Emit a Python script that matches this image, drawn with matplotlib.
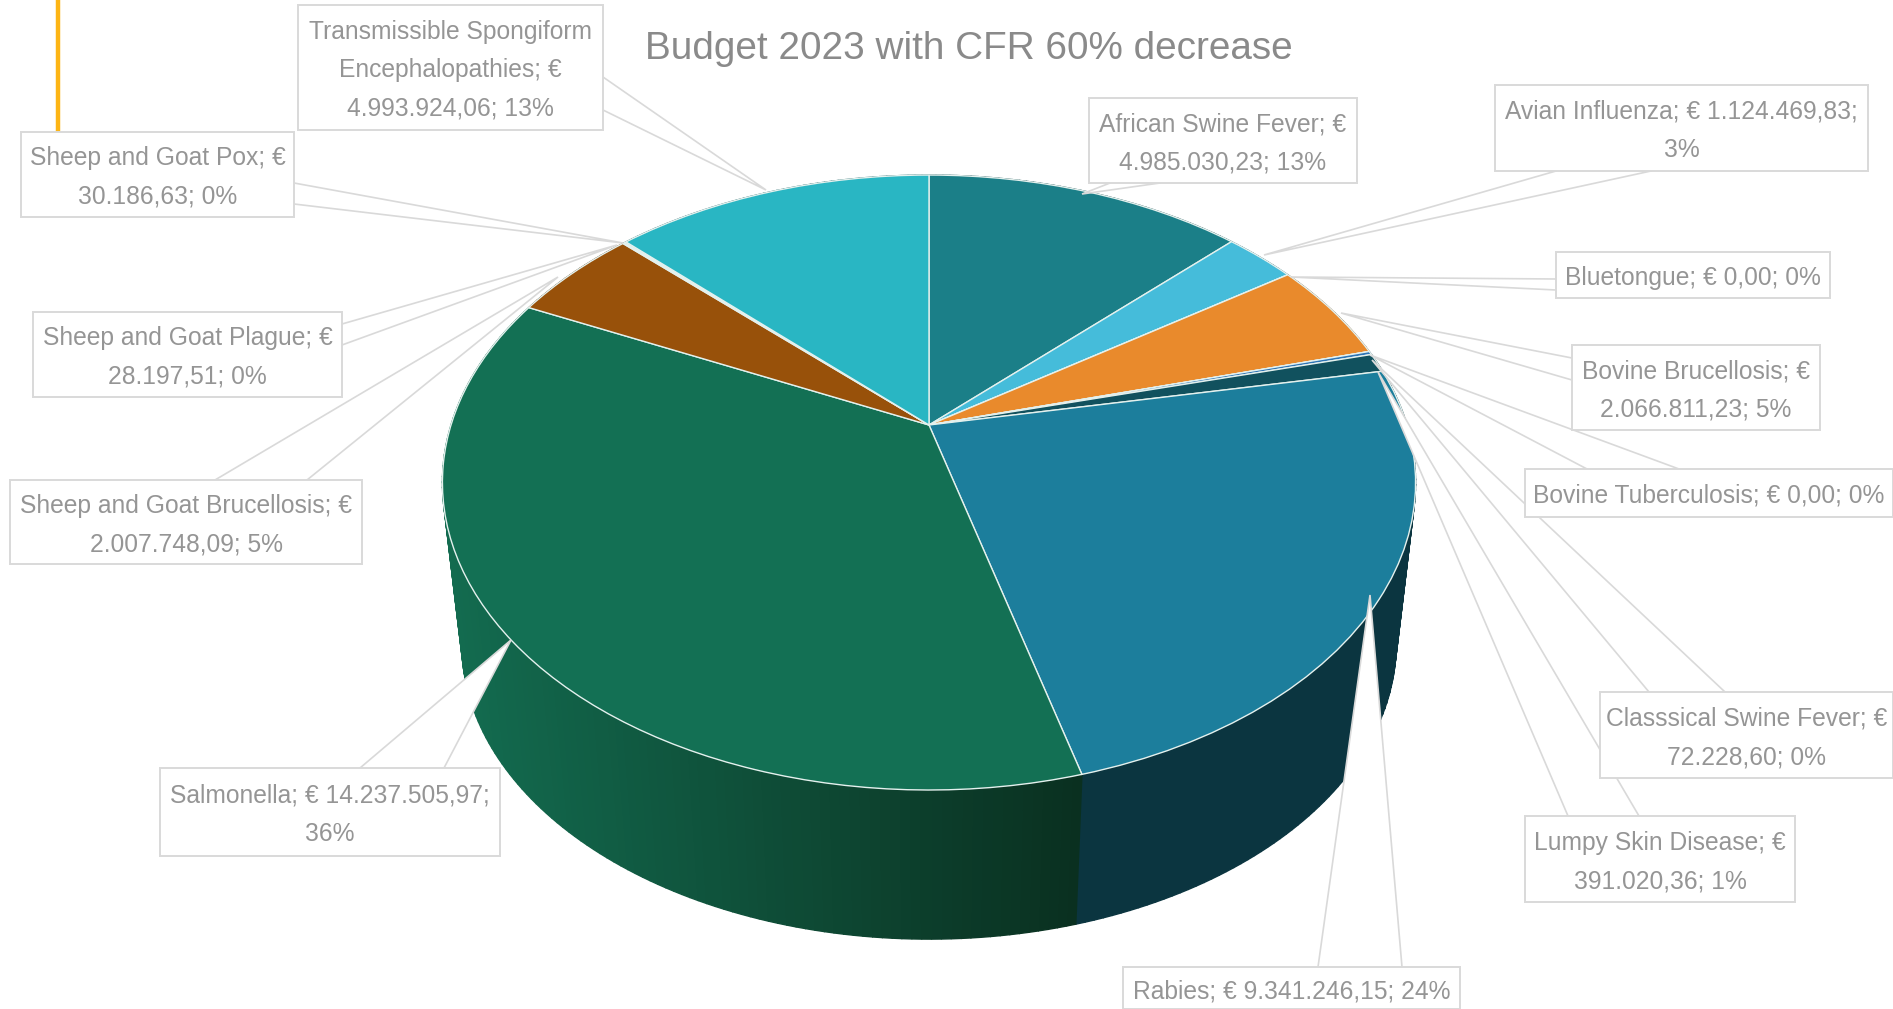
import numpy as np
import matplotlib
matplotlib.use("Agg")
import matplotlib.pyplot as plt
from matplotlib.transforms import Transform
from matplotlib.patches import Polygon, Rectangle
from matplotlib.colors import to_rgb

plt.rcParams['font.family'] = ['Liberation Sans', 'DejaVu Sans']

TITLE = "Budget 2023 with CFR 60% decrease"
diseases = ["African Swine Fever", "Avian Influenza", "Bluetongue", "Bovine Brucellosis",
            "Bovine Tuberculosis", "Classsical Swine Fever", "Lumpy Skin Disease", "Rabies",
            "Salmonella", "Sheep and Goat Brucellosis", "Sheep and Goat Plague",
            "Sheep and Goat Pox", "Transmissible Spongiform Encephalopathies"]
budget = [4985030.23, 1124469.83, 0.00, 2066811.23, 0.00, 72228.60, 391020.36, 9341246.15,
          14237505.97, 2007748.09, 28197.51, 30186.63, 4993924.06]
label_lines = [
    "African Swine Fever; €\n4.985.030,23; 13%",
    "Avian Influenza; € 1.124.469,83;\n3%",
    "Bluetongue; € 0,00; 0%",
    "Bovine Brucellosis; €\n2.066.811,23; 5%",
    "Bovine Tuberculosis; € 0,00; 0%",
    "Classsical Swine Fever; €\n72.228,60; 0%",
    "Lumpy Skin Disease; €\n391.020,36; 1%",
    "Rabies; € 9.341.246,15; 24%",
    "Salmonella; € 14.237.505,97;\n36%",
    "Sheep and Goat Brucellosis; €\n2.007.748,09; 5%",
    "Sheep and Goat Plague; €\n28.197,51; 0%",
    "Sheep and Goat Pox; €\n30.186,63; 0%",
    "Transmissible Spongiform\nEncephalopathies; €\n4.993.924,06; 13%",
]
top_colors = ["#1B7F88", "#45BCDA", "#A5A5A5", "#E98A2C", "#8C8C8C", "#2E75B6", "#11515E",
              "#1C7E9C", "#137054", "#98510A", "#B0B0B0", "#C0C0C0", "#29B6C3"]
wall_left = ["#0E4449", "#245F6E", "#555555", "#74451A", "#444444", "#173A5B", "#09292F",
             "#0B3540", "#136C50", "#4C2905", "#585858", "#606060", "#145B62"]
wall_right = ["#0E4449", "#245F6E", "#555555", "#74451A", "#444444", "#173A5B", "#09292F",
              "#0B3540", "#0A3020", "#4C2905", "#585858", "#606060", "#145B62"]

# callout layout, in figure pixels: box (x0, y0, x1, y1), pointer base A, base B, tip
boxes = [(1089, 98, 1357, 183), (1495, 85, 1868, 171), (1556, 252, 1830, 298),
         (1572, 345, 1820, 430), (1525, 469, 1893, 517), (1600, 692, 1893, 778),
         (1525, 816, 1795, 902), (1123, 967, 1460, 1009), (160, 768, 500, 856),
         (10, 480, 362, 564), (33, 312, 342, 397), (21, 132, 294, 217), (298, 5, 603, 130)]
pointers = [((1110, 183), (1160, 183), (1082, 194)),
            ((1556, 171), (1651, 171), (1264, 255)),
            ((1556, 279), (1556, 290), (1291, 277)),
            ((1572, 358), (1572, 380), (1341, 313)),
            ((1587, 469), (1679, 469), (1370, 355)),
            ((1649, 692), (1725, 692), (1372, 360)),
            ((1568, 816), (1639, 816), (1378, 372)),
            ((1318, 967), (1402, 967), (1370, 595)),
            ((360, 768), (444, 768), (511, 640)),
            ((215, 480), (307, 480), (558, 277)),
            ((342, 324), (342, 345), (617, 245)),
            ((294, 183), (294, 204), (623, 243)),
            ((603, 77), (603, 110), (766, 190))]


class Perspective(Transform):
    """Unit pie disc to screen pixels, seen in perspective."""
    input_dims = output_dims = 2

    def __init__(self, cx=929., cy=425., a=478., b=296.7, k=0.187, scale=1., ref=482., shift=0.):
        super().__init__()
        self.p = (cx, cy, a, b, k, scale, ref, shift)

    def transform_non_affine(self, xy):
        cx, cy, a, b, k, s, ref, dy = self.p
        xy = np.asarray(xy, float)
        w = 1 + k * xy[:, 1]
        x = a * xy[:, 0] / w
        y = cy - b * xy[:, 1] / w
        return np.column_stack((cx + s * x, ref + s * (y - ref) + dy))


fig = plt.figure(figsize=(18.93, 10.09), dpi=100)
ax = fig.add_axes([0, 0, 1, 1])
wedges, _ = ax.pie(budget, colors=top_colors, startangle=90, counterclock=False,
                   wedgeprops=dict(edgecolor="#E4F1EE", linewidth=1.0))
ax.set_xlim(0, 1893)
ax.set_ylim(1009, 0)
ax.axis("off")

top = Perspective()
bottom = Perspective(scale=0.96, shift=161.5)

strips = []
for i, w in enumerate(wedges):
    w.set_transform(top + ax.transData)
    w.set_zorder(3)
    n = max(1, int(np.ceil((w.theta2 - w.theta1) / 1.0)))
    ts = np.radians(np.linspace(w.theta1, w.theta2, n + 1))
    c0, c1 = np.array(to_rgb(wall_left[i])), np.array(to_rgb(wall_right[i]))
    for t0, t1 in zip(ts[:-1], ts[1:]):
        if t0 == t1:
            continue
        uv = np.array([[np.cos(t0), np.sin(t0)], [np.cos(t1), np.sin(t1)]])
        a = top.transform_non_affine(uv)
        b = bottom.transform_non_affine(uv)
        pts = np.vstack((a, b[::-1]))
        f = np.clip((pts[:, 0].mean() - 450) / 625, 0, 1)
        strips.append((pts[:, 1].mean(), pts, c0 + (c1 - c0) * f))
for _, pts, col in sorted(strips, key=lambda s: s[0]):
    ax.add_patch(Polygon(pts, closed=True, facecolor=col, edgecolor=col, lw=1.0, zorder=2))

# orange accent line
ax.plot([58, 58], [0, 132], color="#FDB515", lw=3.2, zorder=1, solid_capstyle="butt")

EDGE = "#D9D9D9"
TXT = "#959595"
for lab, bx, (pa, pb, tip) in zip(label_lines, boxes, pointers):
    x0, y0, x1, y1 = bx
    ax.add_patch(Polygon([pa, tip, pb], closed=False, facecolor="white", edgecolor=EDGE,
                         lw=1.2, zorder=5, joinstyle="miter"))
    ax.add_patch(Rectangle((x0, y0), x1 - x0, y1 - y0, facecolor="white", edgecolor=EDGE,
                           lw=1.4, zorder=6, clip_on=True))
    ax.text((x0 + x1) / 2, (y0 + y1) / 2 + 3, lab, ha="center", va="center", color=TXT,
            fontsize=17.7, linespacing=1.75, zorder=7, clip_on=True)

ax.text(969, 49, TITLE, ha="center", va="center", color="#8A8A8A", fontsize=27.9, zorder=7)

fig.savefig("out.png", dpi=100, facecolor="white")
